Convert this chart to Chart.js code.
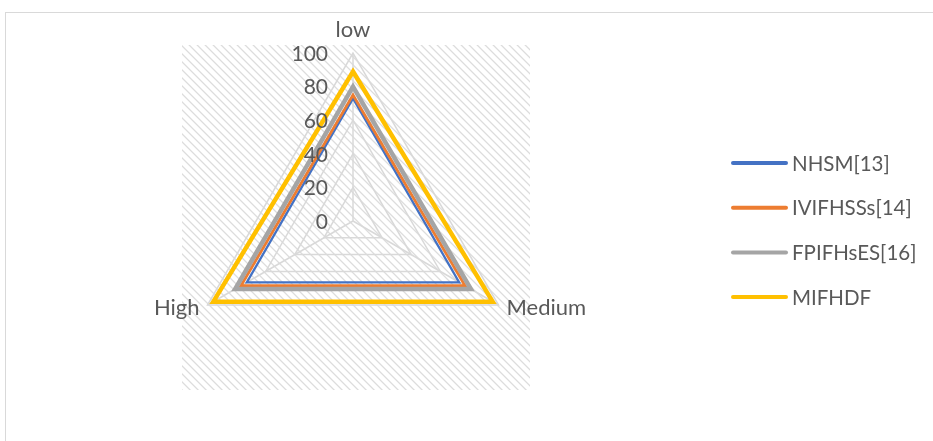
<!DOCTYPE html>
<html>
<head>
<meta charset="utf-8">
<script src="https://cdn.jsdelivr.net/npm/chart.js@4.4.0/dist/chart.umd.min.js"></script>
<style>
  html, body { margin: 0; padding: 0; background: #fff; overflow: hidden; }
  #wrap { position: relative; width: 933px; height: 441px; overflow: hidden; }
  #frame { position: absolute; left: 5px; top: 12px; width: 1000px; height: 600px;
           border: 1px solid #d9d9d9; box-sizing: border-box; }
  #c { position: absolute; left: 0; top: 0; }
</style>
</head>
<body>
<div id="wrap">
  <div id="frame"></div>
  <canvas id="c" width="933" height="441"></canvas>
</div>
<script>
// Axes of the radar
const categories = ['low', 'Medium', 'High'];

// Series values (low, Medium, High)
const nhsm     = [73, 73, 73];
const ivifhsss = [75, 77, 77];
const fpifhses = [80, 81, 81];
const mifhdf   = [89, 96, 96];

const seriesNames  = ['NHSM[13]', 'IVIFHSSs[14]', 'FPIFHsES[16]', 'MIFHDF'];
const seriesColors = ['#4472C4', '#ED7D31', '#A5A5A5', '#FFC000'];
const seriesWidths = [2.25, 2.75, 4.5, 4.5];

// Radial tick labels
const tickValues = [0, 20, 40, 60, 80, 100];

const FONT = 'Lato, "Open Sans", sans-serif';
const TEXT = '#595959';

// Light diagonal hatch used behind the plot
function makeHatch(ctx) {
  const p = document.createElement('canvas');
  p.width = 8; p.height = 8;
  const pc = p.getContext('2d');
  pc.fillStyle = '#ffffff';
  pc.fillRect(0, 0, 8, 8);
  for (let y = 0; y < 8; y++) {
    for (let x = 0; x < 8; x++) {
      const d = ((x - y) % 8 + 8) % 8;
      if (d === 0) { pc.fillStyle = '#dddddd'; pc.fillRect(x, y, 1, 1); }
      else if (d === 1) { pc.fillStyle = '#ececec'; pc.fillRect(x, y, 1, 1); }
      else if (d === 7) { pc.fillStyle = '#f5f5f5'; pc.fillRect(x, y, 1, 1); }
    }
  }
  return ctx.createPattern(p, 'repeat');
}

const decor = {
  id: 'decor',
  beforeDraw(chart) {
    const ctx = chart.ctx;
    ctx.save();
    ctx.fillStyle = makeHatch(ctx);
    ctx.fillRect(182, 45, 348, 345);
    ctx.restore();
  },
  afterDraw(chart) {
    const ctx = chart.ctx;
    const r = chart.scales.r;
    ctx.save();
    ctx.fillStyle = TEXT;
    ctx.font = '21px ' + FONT;

    // tick labels, right-aligned left of the vertical spoke
    ctx.textAlign = 'right';
    ctx.textBaseline = 'middle';
    tickValues.forEach(v => {
      const y = r.yCenter - r.getDistanceFromCenterForValue(v);
      ctx.fillText(String(v), r.xCenter - 25, y + 1);
    });

    // axis names
    ctx.font = '22px ' + FONT;
    ctx.textBaseline = 'alphabetic';
    categories.forEach((name, i) => {
      const p = r.getPointPosition(i, r.drawingArea);
      if (i === 0) {
        ctx.textAlign = 'center';
        ctx.fillText(name, p.x, p.y - 16);
      } else if (p.x > r.xCenter) {
        ctx.textAlign = 'left';
        ctx.fillText(name, p.x + 8, p.y + 10);
      } else {
        ctx.textAlign = 'right';
        ctx.fillText(name, p.x - 8, p.y + 10);
      }
    });

    // legend
    ctx.textAlign = 'left';
    ctx.textBaseline = 'middle';
    ctx.font = '20.5px ' + FONT;
    chart.data.datasets.forEach((ds, i) => {
      const y = 163 + i * 44.7;
      ctx.strokeStyle = ds.borderColor;
      ctx.lineWidth = 4;
      ctx.lineCap = 'round';
      ctx.beginPath();
      ctx.moveTo(733, y);
      ctx.lineTo(786, y);
      ctx.stroke();
      ctx.fillStyle = TEXT;
      ctx.fillText(ds.label, 792, y + 1);
    });
    ctx.restore();
  }
};

const seriesData = [nhsm, ivifhsss, fpifhses, mifhdf];

new Chart(document.getElementById('c'), {
  type: 'radar',
  data: {
    labels: categories,
    datasets: seriesData.map((vals, i) => ({
      label: seriesNames[i],
      data: vals,
      borderColor: seriesColors[i],
      backgroundColor: 'transparent',
      borderWidth: seriesWidths[i],
      borderJoinStyle: 'miter',
      fill: false,
      pointRadius: 0,
      pointHoverRadius: 0,
      order: seriesData.length - i
    }))
  },
  options: {
    responsive: false,
    animation: false,
    devicePixelRatio: 1,
    layout: { padding: { left: 185, right: 412, top: 53, bottom: 52 } },
    plugins: { legend: { display: false }, tooltip: { enabled: false } },
    scales: {
      r: {
        min: 0,
        max: 100,
        ticks: { display: false, stepSize: 20 },
        pointLabels: { display: false },
        grid: { color: '#d9d9d9', lineWidth: 1.5, circular: false },
        angleLines: { color: '#d9d9d9', lineWidth: 1.5 }
      }
    }
  },
  plugins: [decor]
});
</script>
</body>
</html>
